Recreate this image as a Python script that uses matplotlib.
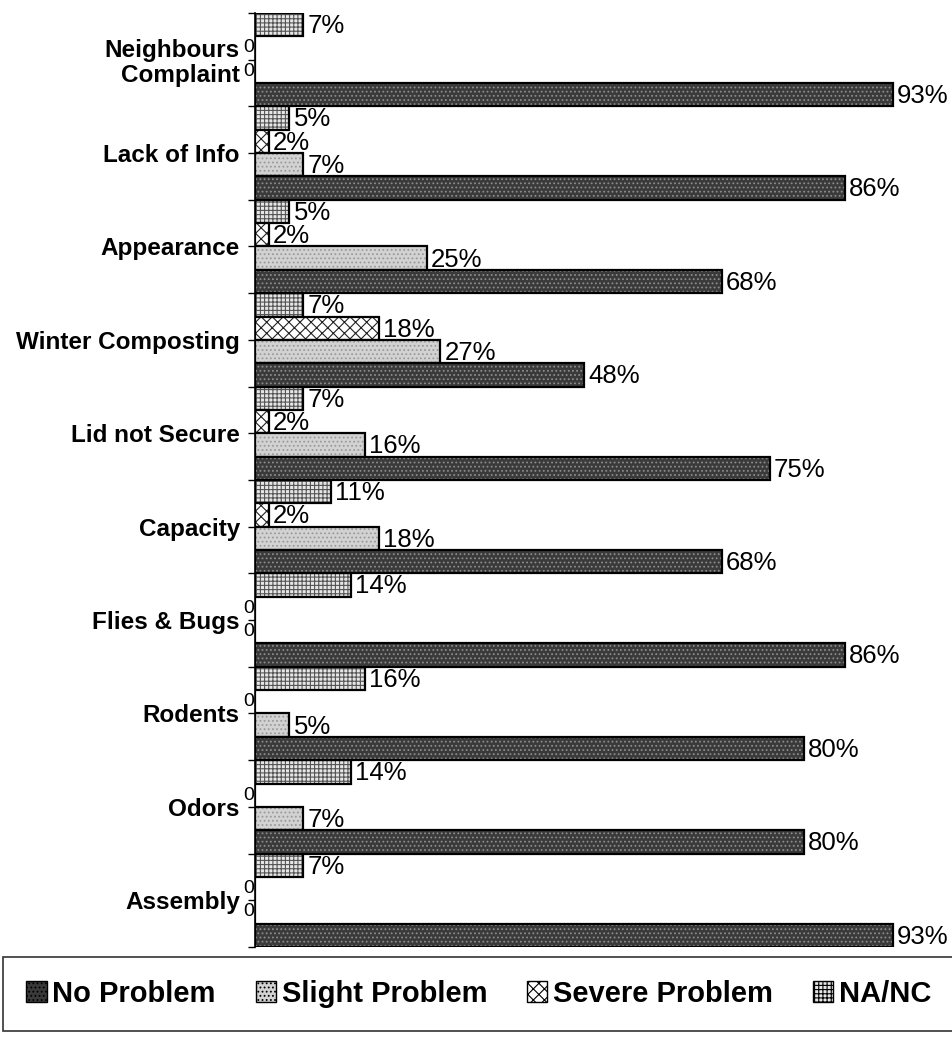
import matplotlib.pyplot as plt
import numpy as np
from matplotlib.patches import Patch

plt.rcParams['font.family'] = ['Liberation Sans', 'DejaVu Sans']
plt.rcParams['hatch.linewidth'] = 0.8

# categories top to bottom
categories = ["Neighbours\nComplaint", "Lack of Info", "Appearance", "Winter Composting",
              "Lid not Secure", "Capacity", "Flies & Bugs", "Rodents", "Odors", "Assembly"]
na_nc = [7, 5, 5, 7, 7, 11, 14, 16, 14, 7]
severe = [0, 2, 2, 18, 2, 2, 0, 0, 0, 0]
slight = [0, 7, 25, 27, 16, 18, 0, 5, 7, 0]
no_problem = [93, 86, 68, 48, 75, 68, 86, 80, 80, 93]

# (name, values, face, hatch, hatch colour, offset in group)
series = [
    ("NA/NC", na_nc, "#e6e6e6", "++++", "#555555", -0.375),
    ("Severe Problem", severe, "white", "xxx", "#222222", -0.125),
    ("Slight Problem", slight, "#d2d2d2", "....", "#9a9a9a", 0.125),
    ("No Problem", no_problem, "#3a3a3a", "....", "#8c8c8c", 0.375),
]

fig = plt.figure(figsize=(9.52, 10.38), dpi=100)
ax = fig.add_axes([0.268, 0.0877, 0.9885 - 0.268, 0.9875 - 0.0877])

ypos = np.arange(len(categories))
h = 0.25
for name, vals, face, hatch, hcol, off in series:
    y = ypos + off
    ax.barh(y, vals, height=h, color=face, hatch=hatch, edgecolor=hcol, linewidth=0)
    ax.barh(y, vals, height=h, fill=False, edgecolor="black", linewidth=1.6)
    for yy, v in zip(y, vals):
        if v > 0:
            ax.annotate(f"{v}%", (v, yy), xytext=(3, -1), textcoords="offset points",
                        ha="left", va="center", fontsize=18.5, annotation_clip=False)
        else:
            # zero values sit just left of the axis line
            ax.annotate("0", (0, yy), xytext=(-1, 0), textcoords="offset points",
                        ha="right", va="center", fontsize=14, annotation_clip=False)

ax.set_xlim(0, 100)
ax.set_ylim(len(categories) - 0.5, -0.5)
ax.set_yticks(ypos)
ax.set_yticklabels(categories, fontsize=17.5, fontweight="bold", linespacing=1.1)
ax.set_yticks(np.arange(len(categories) + 1) - 0.5, minor=True)
ax.tick_params(axis="y", which="both", length=5, width=1, direction="out", pad=6)
ax.set_xticks([])
for s in ["top", "right", "bottom"]:
    ax.spines[s].set_visible(False)
ax.spines["left"].set_linewidth(1.2)

handles = [
    Patch(facecolor="#3a3a3a", edgecolor="black", hatch="...."),
    Patch(facecolor="#d2d2d2", edgecolor="black", hatch="...."),
    Patch(facecolor="white", edgecolor="black", hatch="xxx"),
    Patch(facecolor="#e6e6e6", edgecolor="black", hatch="++++"),
]
labels = ["No Problem", "Slight Problem", "Severe Problem", "NA/NC"]
leg = fig.legend(handles, labels, loc="center", ncol=4, mode="expand",
                 bbox_to_anchor=(0.003, 0.003, 1.0, 0.079),
                 prop={"size": 21, "weight": "bold"}, handlelength=0.7, handleheight=0.7,
                 handletextpad=0.2, borderaxespad=0, borderpad=0.8, fancybox=False,
                 frameon=True, edgecolor="black")
leg.get_frame().set_linewidth(1.2)

fig.savefig("out.png", dpi=100)
